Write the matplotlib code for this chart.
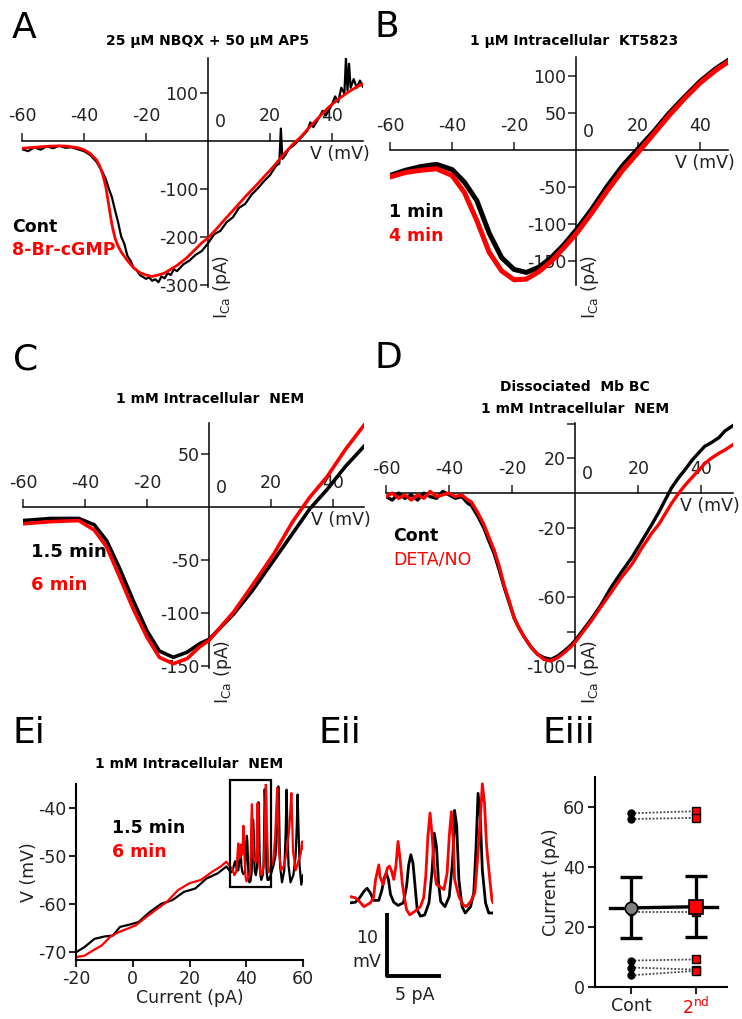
import numpy as np
import matplotlib
matplotlib.use('Agg')
import matplotlib.pyplot as plt
from matplotlib.patches import Rectangle

plt.rcParams['font.family'] = ['DejaVu Sans']
plt.rcParams['axes.unicode_minus'] = False

RED = '#ff0000'
TICK_FS = 12.5
LEG_FS = 12.5
TITLE_FS = 10
W, H = 742., 1019.

##########################################################
# data
##########################################################

# A: 25 uM NBQX + 50 uM AP5 (V in mV, I in pA)
v_a_cont = [-60, -58, -56, -54, -52, -50, -48, -46, -44, -42, -40, -38, -36, -34, -33, -32, -31, -30,
            -29, -28, -27, -26, -25, -24, -23, -22, -21, -20, -19, -18, -17, -16, -15, -14, -13, -12,
            -11, -10, -8, -6, -4, -2, 0, 2, 4, 6, 8, 10, 12, 14, 16, 18, 20, 22, 23, 23.5, 24, 25, 26,
            28, 30, 32, 33, 34, 36, 37, 38, 40, 41, 42, 43, 44, 44.5, 45, 45.5, 46, 47, 48, 49, 50]
i_a_cont = [-18, -22, -14, -19, -12, -16, -11, -15, -14, -18, -22, -30, -44, -66, -80, -100, -118, -145,
            -170, -200, -215, -240, -250, -265, -270, -280, -284, -288, -285, -292, -289, -295, -283, -287, -276, -280,
            -268, -272, -258, -250, -238, -230, -214, -195, -188, -170, -160, -140, -132, -113, -100, -85, -72, -52, -48, 25, -38, -30, -18,
            -8, 6, 20, 38, 28, 50, 62, 52, 75, 92, 80, 110, 98, 172, 105, 160, 110, 128, 110, 125, 112]
v_a_cgmp = [-60, -56, -52, -48, -45, -42, -40, -38, -36, -35, -34, -33, -32, -31, -30, -29, -28, -26, -24,
            -22, -20, -18, -16, -14, -12, -10, -7, -4, -2, 0, 3, 6, 9, 12, 15, 18, 21, 24, 27, 30, 33,
            36, 39, 42, 45, 48, 50]
i_a_cgmp = [-16, -14, -12, -11, -12, -15, -19, -27, -40, -52, -70, -95, -135, -175, -203, -220, -232, -250, -265,
            -275, -280, -283, -280, -276, -268, -260, -245, -226, -213, -203, -182, -160, -139, -117, -97, -76, -55, -32, -10, 8, 30,
            50, 70, 86, 100, 112, 118]

# B: 1 uM intracellular KT5823
v_b = [-60, -55, -50, -45, -40, -36, -32, -28, -24, -20, -16, -12, -8, -4, 0, 5, 10, 15, 20, 25, 30, 35, 40, 45, 50]
i_b_1min = [-34, -27, -22, -19, -26, -43, -68, -112, -145, -161, -165, -158, -145, -128, -108, -80, -49, -21, 2, 25, 50, 72, 93, 110, 124]
i_b_4min = [-36, -30, -27, -25, -34, -57, -95, -138, -163, -175, -174, -164, -150, -132, -113, -85, -55, -27, -3, 22, 47, 70, 91, 108, 122]

# C: 1 mM intracellular NEM
v_c = [-60, -51, -42, -37, -33, -29, -24.5, -20, -16, -11.5, -7, -3, 0, 8, 14, 21, 27, 32.5, 38, 44, 50]
i_c_15min = [-13, -11, -11, -17, -32, -57, -88, -117, -136, -142, -137, -129, -125, -101, -79, -50, -25, -2, 16, 38, 57]
i_c_6min = [-16, -14, -13, -22, -38, -65, -96, -123, -142, -148, -143, -132, -126, -99, -74, -44, -14, 9, 28, 54, 77]

# D: dissociated Mb BC, 1 mM intracellular NEM
v_d = [-60, -58, -56, -54, -52, -50, -48, -46, -44, -42, -40, -38, -36, -34, -33, -31, -29, -27.5, -25.7,
       -24, -22.6, -21, -19.4, -17.8, -16.2, -14, -12, -10, -7.7, -5.5, -3.4, -1.5, 0, 2.5, 5, 8, 11.5,
       14.5, 18, 21, 24.3, 26.5, 28.5, 30.5, 32.8, 35, 37, 39, 41, 43, 45.5, 47.5, 50]
i_d_cont = [-2, -4, 0, -3, -1, -4, 0, -2, -3, 1, -1, -3, -2, -6, -7, -13, -20, -27, -35,
            -45, -54, -63, -72, -78, -83, -89, -93, -95, -96, -94, -91, -88, -85, -79, -73, -65, -54,
            -46, -37, -28, -18, -11, -4, 3, 9, 14, 19, 23, 27, 29, 32, 36, 39]
i_d_deta = [-2, 0, -3, -1, -4, -1, -3, 1, -2, -1, 0, -2, -1, -4, -5, -11, -18, -25, -33,
            -43, -53, -62, -72, -78, -83, -89, -93, -96, -97, -95, -92, -89, -86, -80, -74, -66, -57,
            -49, -41, -32, -23, -18, -12, -6, 0, 5, 9, 13, 17, 20, 23, 25, 28]

# Ei / Eii: current ramp (pA) vs membrane voltage (mV)
ei_i_15min = [-20, -17, -13.5, -10, -7, -4.5, -1, 2, 6, 10, 14, 18, 22, 26, 30, 33,
              34.5, 35.0, 35.4, 35.8, 36.1, 36.4, 36.7, 37.2, 37.5, 37.7, 37.9, 38.1, 38.3, 38.6, 39.0,
              39.5, 39.8, 40.0, 40.2, 40.4, 40.6, 40.8, 41.1, 41.5, 41.9, 42.2, 42.4, 42.6, 42.8, 43.0,
              43.4, 43.8, 44.1, 44.3, 44.3, 44.5, 44.7, 45.0, 45.3, 45.8, 46.1, 46.3, 46.5, 46.7, 46.9,
              47.2, 47.5, 47.9,
              48.6, 49.6, 50.3, 50.9, 51.3, 51.6, 51.9, 52.6, 53.4, 53.9, 54.2, 54.5, 54.9, 55.6, 56.6,
              57.4, 57.8, 58.1, 58.4, 58.8, 59.4, 60]
ei_v_15min = [-70.1, -69, -67.3, -66.8, -66.6, -64.8, -64.3, -63.8, -61.7, -60, -59.2, -57.5, -56.8, -54.7, -53.6, -52.2,
              -53.4, -53.3, -52.6, -51.6, -51.1, -51.8, -53.0, -53.0, -51.3, -49.5, -48.7, -49.7, -52.1, -53.3, -53.8,
              -53.4, -50.8, -47.4, -45.8, -47.1, -50.8, -54.5, -55.5, -55.3, -53.4, -48.2, -42.4, -44.5, -50.3, -53.2,
              -54.0, -52.4, -47.1, -40.8, -38.8, -41.3, -49.7, -54.0, -55.0, -54.0, -51.8, -45.0, -36.1, -39.7, -48.2,
              -53.4, -55.0, -55.0,
              -54, -52, -50, -44, -35.5, -42, -52, -55.5, -53, -45, -36.2, -44, -52, -55.5, -54,
              -50, -44, -37.2, -44, -52, -56, -54]
ei_i_6min = [-20, -17, -14, -11, -8, -5, -2, 1, 4, 8, 12, 16, 20, 24, 28, 31, 33,
             34.5, 35.0, 35.4, 35.8, 36.1, 36.4, 36.7, 36.9, 37.2, 37.3, 37.6, 37.8, 38.0, 38.2, 38.4,
             38.6, 38.8, 39.0, 39.2, 39.4, 39.6, 39.8, 40.1, 40.6, 41.1, 41.4, 41.6, 41.8, 42.0, 42.2,
             42.4, 42.6, 42.9, 43.3, 43.6, 43.8, 44.0, 44.2, 44.3, 44.7, 45.1, 45.4, 45.8, 46.2, 46.5,
             46.8, 46.9, 47.1, 47.3, 47.6, 47.8, 47.9,
             48.6, 49.5, 50.2, 50.6, 50.9, 51.2, 51.5, 52.3, 53.3, 54.3, 55.2, 55.6, 55.9, 56.2, 56.5,
             57.4, 58.4, 59.2, 59.7, 60]
ei_v_6min = [-71.1, -70.8, -69.7, -68.7, -66.9, -65.9, -65.2, -64.5, -63.1, -61.3, -59.6, -57.1, -55.7, -55, -53.3, -52.2, -51.2,
             -52.4, -52.6, -53.2, -54.0, -53.7, -53.4, -52.6, -49.7, -47.4, -49.2, -50.5, -49.2, -47.9, -47.6, -48.4,
             -49.7, -47.6, -43.7, -46.6, -50.3, -52.6, -54.5, -55.3, -54.7, -54.0, -52.6, -49.2, -42.9, -39.2, -42.9,
             -48.2, -50.5, -50.8, -51.3, -48.7, -42.9, -39.0, -44.0, -49.7, -52.4, -53.7, -54.0, -53.2, -51.8, -45.5,
             -37.6, -34.6, -37.6, -44.5, -49.7, -52.9, -53.4,
             -52.5, -51, -46, -40, -35.8, -42, -49, -53, -52, -49, -44, -40, -36.9, -43, -49,
             -53, -51, -49.5, -47, -48.5]

# Eiii: spike threshold current per cell
eiii_groups = ['Cont', '2$^{\\mathregular{nd}}$']
eiii_cont = [57.9, 56.0, 25.1, 8.8, 6.5, 3.9]
eiii_second = [58.6, 56.4, 25.1, 9.2, 5.8, 5.4]


##########################################################
# layout helpers (pixel positions of the 742x1019 figure)
##########################################################

fig = plt.figure(figsize=(W / 100, H / 100), dpi=100)


def rect(l, t, r, b):
    return [l / W, 1 - b / H, (r - l) / W, (b - t) / H]


def put(x, y, s, **kw):
    return fig.text(x / W, 1 - y / H, s, **kw)


def iv_axes(r, xlim, ylim, yticks, ylabels):
    ax = fig.add_axes(r)
    ax.set_xlim(xlim)
    ax.set_ylim(ylim)
    ax.patch.set_visible(False)
    for s in ['right', 'bottom']:
        ax.spines[s].set_visible(False)
    ax.spines['left'].set_position(('data', 0))
    ax.spines['top'].set_position(('data', 0))
    for s in ['left', 'top']:
        ax.spines[s].set_linewidth(1.1)
    ax.xaxis.set_ticks_position('top')
    ax.set_xticks([-60, -40, -20, 20, 40])
    ax.set_xticklabels(['-60', '-40', '-20', '20', '40'])
    ax.set_yticks(yticks)
    ax.set_yticklabels(ylabels)
    ax.tick_params(direction='out', length=6, width=1.1, labelsize=TICK_FS, colors='#222222')
    ax.tick_params(axis='y', pad=1)
    ax.tick_params(axis='x', pad=5)
    ax.annotate('0', xy=(0, 0), xytext=(5, 7), textcoords='offset points',
                ha='left', va='bottom', fontsize=TICK_FS, color='#222222')
    ax.annotate('V (mV)', xy=(1, 0), xycoords=('axes fraction', 'data'), xytext=(5, -3),
                textcoords='offset points', ha='right', va='top', fontsize=TICK_FS, color='#222222')
    return ax


def ica_label(x, y):
    put(x, y, 'I$_{\\mathregular{Ca}}$ (pA)', rotation=90, ha='left', va='bottom',
        fontsize=TICK_FS, color='#222222')


# ---------------- A ----------------
axA = iv_axes(rect(22, 58, 363, 287), (-60, 50), (-305, 172),
              [-300, -200, -100, 100], ['-300', '-200', '-100', '100'])
axA.plot(v_a_cont, i_a_cont, color='k', lw=1.6, zorder=3)
axA.plot(v_a_cgmp, i_a_cgmp, color=RED, lw=2.0, zorder=3)
ica_label(211, 319)
put(12, 38, 'A', fontsize=26)
put(208, 45, '25 \u00b5M NBQX + 50 \u00b5M AP5', ha='center', fontsize=TITLE_FS, fontweight='bold')
put(12, 232, 'Cont', fontsize=LEG_FS, fontweight='bold')
put(12, 255, '8-Br-cGMP', fontsize=LEG_FS, fontweight='bold', color=RED)

# ---------------- B ----------------
axB = iv_axes(rect(390, 57, 728, 285), (-60, 49), (-182, 126),
              [-150, -100, -50, 50, 100], ['-150', '-100', '-50', '50', '100'])
axB.plot(v_b, i_b_1min, color='k', lw=3.6, zorder=3)
axB.plot(v_b, i_b_4min, color=RED, lw=3.6, zorder=3)
ica_label(579, 319)
put(374, 37, 'B', fontsize=26)
put(574, 45, '1 \u00b5M Intracellular  KT5823', ha='center', fontsize=TITLE_FS, fontweight='bold')
put(389, 217, '1 min', fontsize=LEG_FS, fontweight='bold')
put(389, 241, '4 min', fontsize=LEG_FS, fontweight='bold', color=RED)

# ---------------- C ----------------
axC = iv_axes(rect(23, 423, 364, 668), (-60, 50), (-152, 79),
              [-150, -100, -50, 50], ['-150', '-100', '-50', '50'])
axC.plot(v_c, i_c_15min, color='k', lw=2.6, zorder=3)
axC.plot(v_c, i_c_6min, color=RED, lw=2.6, zorder=3)
ica_label(212, 704)
put(13, 370, 'C', fontsize=26)
put(210, 403, '1 mM Intracellular  NEM', ha='center', fontsize=TITLE_FS, fontweight='bold')
put(31, 557, '1.5 min', fontsize=LEG_FS + 0.5, fontweight='bold')
put(31, 590, '6 min', fontsize=LEG_FS + 0.5, fontweight='bold', color=RED)

# ---------------- D ----------------
axD = iv_axes(rect(386, 423, 733, 668), (-60, 50), (-101, 40.5),
              [-100, -80, -60, -40, -20, 20, 40], ['-100', '', '-60', '', '-20', '20', ''])
axD.plot(v_d, i_d_cont, color='k', lw=2.4, zorder=3)
axD.plot(v_d, i_d_deta, color=RED, lw=2.4, zorder=3)
ica_label(579, 704)
put(374, 368, 'D', fontsize=26)
put(575, 391, 'Dissociated  Mb BC', ha='center', fontsize=TITLE_FS, fontweight='bold')
put(575, 413, '1 mM Intracellular  NEM', ha='center', fontsize=TITLE_FS, fontweight='bold')
put(393, 541, 'Cont', fontsize=LEG_FS, fontweight='bold')
put(393, 565, 'DETA/NO', fontsize=LEG_FS, color=RED)

# ---------------- Ei ----------------
axE1 = fig.add_axes(rect(76, 784, 303, 960))
axE1.plot(ei_i_15min, ei_v_15min, color='k', lw=1.6)
axE1.plot(ei_i_6min, ei_v_6min, color=RED, lw=1.6)
axE1.add_patch(Rectangle((34.3, -56.5), 14.4, 22.4, fill=False, ec='k', lw=1.6, clip_on=False, zorder=4))
axE1.set_xlim(-20, 60)
axE1.set_ylim(-71.7, -35)
axE1.set_xticks([-20, 0, 20, 40, 60])
axE1.set_xticklabels(['-20', '0', '20', '40', '60'])
axE1.set_yticks([-70, -60, -50, -40])
axE1.set_yticklabels(['-70', '-60', '-50', '-40'])
for s in ['right', 'top']:
    axE1.spines[s].set_visible(False)
for s in ['left', 'bottom']:
    axE1.spines[s].set_linewidth(1.5)
axE1.tick_params(direction='out', length=5, width=1.5, labelsize=TICK_FS, pad=2, colors='#222222')
axE1.set_xlabel('Current (pA)', fontsize=TICK_FS, labelpad=1, color='#222222')
axE1.set_ylabel('V (mV)', fontsize=TICK_FS, labelpad=0, color='#222222')
put(13, 743, 'Ei', fontsize=26)
put(189, 768, '1 mM Intracellular  NEM', ha='center', fontsize=TITLE_FS, fontweight='bold')
put(112, 833, '1.5 min', fontsize=LEG_FS, fontweight='bold')
put(112, 857, '6 min', fontsize=LEG_FS, fontweight='bold', color=RED)

# ---------------- Eii (zoom of the boxed region) ----------------
axE2 = fig.add_axes(rect(350, 780, 493, 922.5))
axE2.plot(ei_i_15min, ei_v_15min, color='k', lw=2.0)
axE2.plot(ei_i_6min, ei_v_6min, color=RED, lw=2.0)
axE2.set_xlim(34.5, 47.9)
axE2.set_ylim(-56.5, -34)
axE2.axis('off')
# scale bar 5 pA x 10 mV
axE2.plot([38, 38, 43], [-55, -65, -65], color='k', lw=2.8, clip_on=False, solid_capstyle='butt')
put(318, 743, 'Eii', fontsize=26)
put(378, 943, '10', ha='right', fontsize=TICK_FS, color='#222222')
put(381, 967, 'mV', ha='right', fontsize=TICK_FS, color='#222222')
put(415, 1000, '5 pA', ha='center', fontsize=TICK_FS, color='#222222')

# ---------------- Eiii ----------------
axE3 = fig.add_axes(rect(595, 777, 727, 987))
xpos = [1, 2]
for a, b in zip(eiii_cont, eiii_second):
    axE3.plot(xpos, [a, b], ls=(0, (1, 1)), color='#444444', lw=1.3, zorder=1)
axE3.plot([1] * len(eiii_cont), eiii_cont, 'o', color='k', ms=5, zorder=2)
axE3.plot([2] * len(eiii_second), eiii_second, 's', mfc=RED, mec='k', mew=1, ms=6, zorder=2)
means = [np.mean(eiii_cont), np.mean(eiii_second)]
sems = [np.std(eiii_cont, ddof=1) / np.sqrt(len(eiii_cont)),
        np.std(eiii_second, ddof=1) / np.sqrt(len(eiii_second))]
axE3.errorbar(xpos, means, yerr=sems, fmt='none', ecolor='k', elinewidth=2.4,
              capsize=8, capthick=2.4, zorder=3)
axE3.plot([0.68, 1], [means[0], means[0]], color='k', lw=2.4, zorder=3)
axE3.plot(xpos, means, color='k', lw=2.4, zorder=3)
axE3.plot([2, 2.32], [means[1], means[1]], color='k', lw=2.4, zorder=3)
axE3.plot(1, means[0], 'o', mfc='#808080', mec='k', mew=1.2, ms=9, zorder=4)
axE3.plot(2, means[1], 's', mfc=RED, mec='k', mew=1.2, ms=10, zorder=4)
axE3.set_xlim(0.446, 2.477)
axE3.set_ylim(0, 70)
axE3.set_yticks([0, 20, 40, 60])
axE3.set_xticks(xpos)
axE3.set_xticklabels(eiii_groups)
for s in ['right', 'top']:
    axE3.spines[s].set_visible(False)
for s in ['left', 'bottom']:
    axE3.spines[s].set_linewidth(1.5)
axE3.tick_params(direction='out', length=5, width=1.5, labelsize=TICK_FS, pad=2, colors='#222222')
axE3.get_xticklabels()[1].set_color(RED)
axE3.set_ylabel('Current (pA)', fontsize=TICK_FS, labelpad=2, color='#222222')
put(542, 743, 'Eiii', fontsize=26)

fig.savefig('out.png', dpi=100)
